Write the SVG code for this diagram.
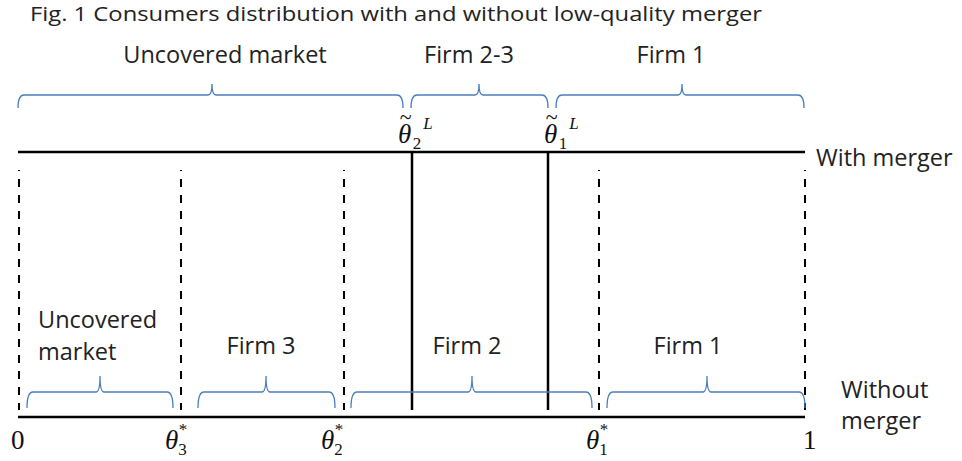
<svg xmlns="http://www.w3.org/2000/svg" width="962" height="461" viewBox="0 0 962 461">
<style>
.lbl{font-family:"Open Sans","Liberation Sans",sans-serif;font-size:23.5px;fill:#222}
.ttl{font-family:"Open Sans","Liberation Sans",sans-serif;font-size:20px;fill:#222}
.m{font-family:"Liberation Serif","Times New Roman",serif;font-size:27px;fill:#111}
.mi{font-style:italic}
.axis{stroke:#000;stroke-width:2.5;fill:none}
.sol{stroke:#000;stroke-width:2.5;fill:none}
.dash{stroke:#000;stroke-width:2;stroke-dasharray:8 8;stroke-dashoffset:7;fill:none}
.br{stroke:#4A7EBB;stroke-width:1.3;fill:none}
</style>
<rect width="962" height="461" fill="#fff"/>
<text class="ttl" x="30" y="21" textLength="732" lengthAdjust="spacingAndGlyphs">Fig. 1 Consumers distribution with and without low-quality merger</text>

<g id="axes">
<line class="axis" x1="18" y1="152" x2="805" y2="152"/>
<line class="axis" x1="18" y1="417" x2="805" y2="417"/>
</g>

<g id="connectors">
<line class="sol" x1="412" y1="152" x2="412" y2="410"/>
<line class="sol" x1="548" y1="152" x2="548" y2="410"/>
<line class="dash" x1="19" y1="170" x2="19" y2="410"/>
<line class="dash" x1="181" y1="170" x2="181" y2="410"/>
<line class="dash" x1="344" y1="170" x2="344" y2="410"/>
<line class="dash" x1="599" y1="170" x2="599" y2="410"/>
<line class="dash" x1="805" y1="170" x2="805" y2="410"/>
</g>

<g id="top-braces">
<path class="br" d="M18,108 Q18,95 24,95 L208,95 Q212,95 212,84 Q212,95 216,95 L397,95 Q403,95 403,108"/>
<path class="br" d="M411,108 Q411,95 417,95 L475,95 Q479,95 479,84 Q479,95 483,95 L542,95 Q548,95 548,108"/>
<path class="br" d="M556,108 Q556,95 562,95 L678,95 Q682,95 682,84 Q682,95 686,95 L798,95 Q804,95 804,108"/>
</g>

<g id="bottom-braces">
<path class="br" d="M27,408 Q27,392 33,392 L96,392 Q100,392 100,376 Q100,392 104,392 L167,392 Q173,392 173,408"/>
<path class="br" d="M198,408 Q198,392 204,392 L262,392 Q266,392 266,376 Q266,392 270,392 L329,392 Q335,392 335,408"/>
<path class="br" d="M351,408 Q351,392 357,392 L468,392 Q472,392 472,376 Q472,392 476,392 L586,392 Q592,392 592,408"/>
<path class="br" d="M607,408 Q607,392 613,392 L703,392 Q707,392 707,376 Q707,392 711,392 L799,392 Q805,392 805,408"/>
</g>

<g id="top-labels">
<text class="lbl" x="225" y="63" text-anchor="middle">Uncovered market</text>
<text class="lbl" x="469" y="63" text-anchor="middle">Firm 2-3</text>
<text class="lbl" x="671" y="63" text-anchor="middle">Firm 1</text>
<text class="lbl" x="816" y="166">With merger</text>
</g>

<g id="bottom-labels">
<text class="lbl" x="38" y="328">Uncovered</text>
<text class="lbl" x="38" y="360">market</text>
<text class="lbl" x="261" y="354" text-anchor="middle">Firm 3</text>
<text class="lbl" x="467" y="354" text-anchor="middle">Firm 2</text>
<text class="lbl" x="688" y="354" text-anchor="middle">Firm 1</text>
<text class="lbl" x="841" y="398">Without</text>
<text class="lbl" x="841" y="429">merger</text>
</g>

<g id="theta2L">
<text class="m" x="398" y="143"><tspan class="mi">θ</tspan><tspan font-size="22" dx="-11.5" dy="-19">~</tspan><tspan font-size="17" dx="1" dy="25">2</tspan><tspan class="mi" font-size="17" dx="2" dy="-20">L</tspan></text>
</g>
<g id="theta1L">
<text class="m" x="544" y="143"><tspan class="mi">θ</tspan><tspan font-size="22" dx="-11.5" dy="-19">~</tspan><tspan font-size="17" dx="1" dy="25">1</tspan><tspan class="mi" font-size="17" dx="2" dy="-20">L</tspan></text>
</g>

<g id="axis-labels">
<text class="m" x="11" y="449">0</text>
<text class="m" x="165" y="449"><tspan class="mi">θ</tspan><tspan font-size="17" dy="6">3</tspan><tspan font-size="17" dx="-8" dy="-20">*</tspan></text>
<text class="m" x="321" y="449"><tspan class="mi">θ</tspan><tspan font-size="17" dy="6">2</tspan><tspan font-size="17" dx="-8" dy="-20">*</tspan></text>
<text class="m" x="586" y="449"><tspan class="mi">θ</tspan><tspan font-size="17" dy="6">1</tspan><tspan font-size="17" dx="-8" dy="-20">*</tspan></text>
<text class="m" x="803" y="449">1</text>
</g>
</svg>
